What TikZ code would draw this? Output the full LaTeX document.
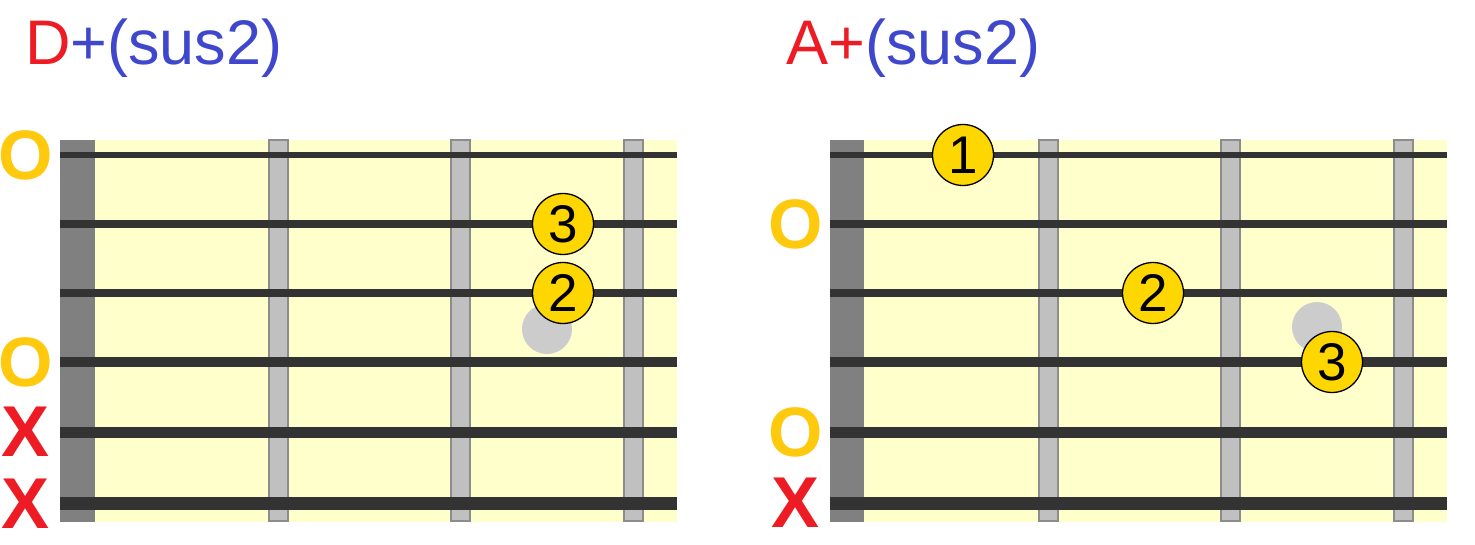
\documentclass[tikz,border=0pt]{standalone}
\usepackage{fontspec}
\setmainfont{Liberation Sans}
\definecolor{chordred}{HTML}{ED1C24}
\definecolor{chordblue}{HTML}{3F48CC}
\definecolor{boardyellow}{HTML}{FFFFCC}
\definecolor{nutgray}{HTML}{808080}
\definecolor{fretgray}{HTML}{C0C0C0}
\definecolor{fretedge}{HTML}{8C8C8C}
\definecolor{stringgray}{HTML}{333333}
\definecolor{ghostgray}{HTML}{CCCCCC}
\definecolor{fingergold}{HTML}{FFD700}
\definecolor{openyellow}{HTML}{FFC90E}

\begin{document}
\begin{tikzpicture}[x=1pt,y=-1pt,
		board/.style={fill=boardyellow},
		nut/.style={fill=nutgray},
		fret/.style={fill=fretgray, draw=fretedge, line width=1.5pt},
		gstring/.style={draw=stringgray},
		finger/.style={circle, draw=black, line width=1.3pt, fill=fingergold, minimum size=61pt, inner sep=0pt, font=\fontsize{53}{53}\selectfont},
		ghost/.style={circle, fill=ghostgray, minimum size=50pt, inner sep=0pt},
		openstr/.style={text=openyellow, inner sep=0pt, font=\fontsize{70}{70}\selectfont\bfseries},
		mutedstr/.style={text=chordred, inner sep=0pt, font=\fontsize{72}{72}\selectfont\bfseries},
		chordname/.style={anchor=base west, inner sep=0pt, font=\fontsize{63}{70}\selectfont}
	]
	\useasboundingbox (0,0) rectangle (1475,545);
	
	% D+(sus2)
	\node[chordname] (t_d) at (25,65) {\textcolor{chordred}{D}\textcolor{chordblue}{+(sus2)}};
	\fill[board] (60,140) rectangle (677,522);
	\fill[nut] (60,140) rectangle (95,522);
	\draw[fret] (269,140) rectangle (288,521);
	\draw[fret] (451,140) rectangle (470,521);
	\draw[fret] (624,140) rectangle (643,521);
	\draw[gstring, line width=6.5pt] (60,155) -- (677,155);
	\draw[gstring, line width=7.5pt] (60,224) -- (677,224);
	\draw[gstring, line width=8pt] (60,293) -- (677,293);
	\draw[gstring, line width=9.5pt] (60,362) -- (677,362);
	\draw[gstring, line width=11pt] (60,432) -- (677,432);
	\draw[gstring, line width=13pt] (60,503) -- (677,503);
	
	\node[ghost] (d_g) at (547,329) {};
	\node[finger] (d_3) at (563,224) {3};
	\node[finger] (d_2) at (563,293) {2};
	
	\node[openstr] (d_o1) at (26,155) {O};
	\node[openstr] (d_o4) at (26,362) {O};
	\node[mutedstr] (d_x5) at (26,432) {X};
	\node[mutedstr] (d_x6) at (26,504) {X};
	
	% A+(sus2)
	\node[chordname] (t_a) at (786,65) {\textcolor{chordred}{A+}\textcolor{chordblue}{(sus2)}};
	\fill[board] (830,140) rectangle (1447,522);
	\fill[nut] (830,140) rectangle (864,522);
	\draw[fret] (1039,140) rectangle (1058,521);
	\draw[fret] (1221,140) rectangle (1240,521);
	\draw[fret] (1394,140) rectangle (1413,521);
	\draw[gstring, line width=6.5pt] (830,155) -- (1447,155);
	\draw[gstring, line width=7.5pt] (830,224) -- (1447,224);
	\draw[gstring, line width=8pt] (830,293) -- (1447,293);
	\draw[gstring, line width=9.5pt] (830,362) -- (1447,362);
	\draw[gstring, line width=11pt] (830,432) -- (1447,432);
	\draw[gstring, line width=13pt] (830,503) -- (1447,503);
	
	\node[ghost] (a_g) at (1317,327) {};
	\node[finger] (a_1) at (963,155) {1};
	\node[finger] (a_2) at (1153,293) {2};
	\node[finger] (a_3) at (1332,362) {3};
	
	\node[openstr] (a_o2) at (796,224) {O};
	\node[openstr] (a_o5) at (796,432) {O};
	\node[mutedstr] (a_x6) at (796,503) {X};
\end{tikzpicture}
\end{document}
